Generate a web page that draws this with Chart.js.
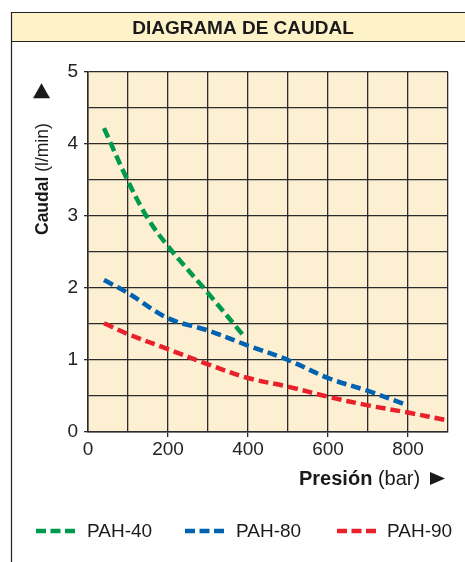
<!DOCTYPE html>
<html>
<head>
<meta charset="utf-8">
<script src="https://cdn.jsdelivr.net/npm/chart.js@4/dist/chart.umd.min.js"></script>
<style>
  html, body { margin: 0; padding: 0; background: #fff; }
  #wrap { position: relative; width: 465px; height: 562px; }
</style>
</head>
<body>
<div id="wrap"><canvas id="c" width="465" height="562"></canvas></div>
<script>
// ---- data ----
const chartTitle = "DIAGRAMA DE CAUDAL";
const seriesNames = ["PAH-40", "PAH-80", "PAH-90"];
const seriesColors = ["#009A4E", "#0062B1", "#E8212B"];

const pah40Pressure = [40, 97, 147, 197, 297, 393];
const pah40Flow     = [4.22, 3.52, 2.99, 2.6, 1.95, 1.31];

const pah80Pressure = [40, 100, 200, 300, 400, 500, 600, 700, 800];
const pah80Flow     = [2.11, 1.93, 1.58, 1.41, 1.2, 1.0, 0.75, 0.57, 0.37];

const pah90Pressure = [40, 100, 200, 300, 400, 500, 600, 700, 800, 900];
const pah90Flow     = [1.51, 1.36, 1.15, 0.94, 0.75, 0.63, 0.49, 0.37, 0.27, 0.16];

const xTickLabels = [0, 200, 400, 600, 800];
const yTickLabels = [0, 1, 2, 3, 4, 5];

function pts(xs, ys) { return xs.map((x, i) => ({ x: x, y: ys[i] })); }
const seriesData = [pts(pah40Pressure, pah40Flow), pts(pah80Pressure, pah80Flow), pts(pah90Pressure, pah90Flow)];

const FONT = "'Liberation Sans', Arial, sans-serif";
const GRID = "#2b2b2b";

const decor = {
  id: 'decor',
  beforeDraw(chart) {
    const ctx = chart.ctx, a = chart.chartArea;
    ctx.save();
    ctx.fillStyle = "#FDEFD1";
    ctx.fillRect(a.left, a.top, a.right - a.left, a.bottom - a.top);
    ctx.restore();
  },
  afterDraw(chart) {
    const ctx = chart.ctx;
    ctx.save();
    // frame + title band
    ctx.fillStyle = "#FEF2C9";
    ctx.fillRect(11, 12, 470, 29);
    ctx.strokeStyle = "#222";
    ctx.lineWidth = 1.2;
    ctx.beginPath();
    ctx.moveTo(11, 12.5); ctx.lineTo(470, 12.5);
    ctx.moveTo(11, 41.5); ctx.lineTo(470, 41.5);
    ctx.moveTo(11.5, 12); ctx.lineTo(11.5, 562);
    ctx.stroke();
    ctx.fillStyle = "#1a1a1a";
    ctx.font = "bold 19px " + FONT;
    ctx.textAlign = "center";
    ctx.textBaseline = "alphabetic";
    ctx.fillText(chartTitle, 243, 34);

    // y axis title (rotated)
    ctx.save();
    ctx.translate(48, 235);
    ctx.rotate(-Math.PI / 2);
    ctx.textAlign = "left";
    ctx.font = "bold 17.5px " + FONT;
    let x = 0;
    ctx.fillText("Caudal", x, 0); x += ctx.measureText("Caudal ").width;
    ctx.font = "17.5px " + FONT;
    ctx.fillText("(l/min)", x, 0); x += ctx.measureText("(l/min)").width + 25;
    ctx.beginPath();
    ctx.moveTo(x, -15); ctx.lineTo(x + 15, -6.5); ctx.lineTo(x, 2); ctx.closePath();
    ctx.fill();
    ctx.restore();

    // x axis title
    ctx.textAlign = "left";
    let xt = 299;
    ctx.font = "bold 20px " + FONT;
    ctx.fillText("Presión", xt, 485); xt += ctx.measureText("Presión ").width;
    ctx.font = "20px " + FONT;
    ctx.fillText("(bar)", xt, 485); xt = 430;
    ctx.beginPath();
    ctx.moveTo(xt, 472); ctx.lineTo(xt + 15, 478.5); ctx.lineTo(xt, 485); ctx.closePath();
    ctx.fill();

    // legend
    const lx = [36, 185, 337], tx = [87, 236, 387];
    ctx.font = "19px " + FONT;
    for (let i = 0; i < 3; i++) {
      ctx.strokeStyle = seriesColors[i];
      ctx.lineWidth = 4.5;
      ctx.setLineDash([10, 4.5]);
      ctx.beginPath();
      ctx.moveTo(lx[i], 531); ctx.lineTo(lx[i] + 39, 531);
      ctx.stroke();
      ctx.setLineDash([]);
      ctx.fillStyle = "#1a1a1a";
      ctx.fillText(seriesNames[i], tx[i], 537);
    }
    ctx.restore();
  }
};

new Chart(document.getElementById('c'), {
  type: 'line',
  data: {
    datasets: seriesNames.map((n, i) => ({
      label: n,
      data: seriesData[i],
      borderColor: seriesColors[i],
      backgroundColor: seriesColors[i],
      borderWidth: 4.5,
      borderDash: [10, 5],
      pointRadius: 0,
      fill: false,
      tension: 0.35
    }))
  },
  options: {
    responsive: false,
    animation: false,
    events: [],
    layout: { padding: { left: 0, top: 72, right: 17, bottom: 0 } },
    plugins: { legend: { display: false }, tooltip: { enabled: false }, title: { display: false } },
    scales: {
      x: {
        type: 'linear', min: 0, max: 900,
        afterFit(s) { s.height = 130; },
        grid: { color: GRID, lineWidth: 1.3, tickLength: 5,
          tickColor: c => xTickLabels.includes(c.tick.value) && c.tick.value !== 0 ? GRID : 'transparent' },
        border: { color: GRID, width: 1.5 },
        ticks: { stepSize: 100, autoSkip: false, maxRotation: 0, padding: 1, color: "#222",
          font: { family: FONT, size: 19 },
          callback: v => xTickLabels.includes(v) ? String(v) : '' }
      },
      y: {
        type: 'linear', min: 0, max: 5,
        afterFit(s) { s.width = 88; },
        grid: { color: GRID, lineWidth: 1.3, tickLength: 4,
          tickColor: c => yTickLabels.includes(c.tick.value) ? GRID : 'transparent' },
        border: { color: GRID, width: 1.5 },
        ticks: { stepSize: 0.5, autoSkip: false, padding: 6, color: "#222",
          font: { family: FONT, size: 19 },
          callback: v => yTickLabels.includes(v) ? String(v) : '' }
      }
    }
  },
  plugins: [decor]
});
</script>
</body>
</html>
